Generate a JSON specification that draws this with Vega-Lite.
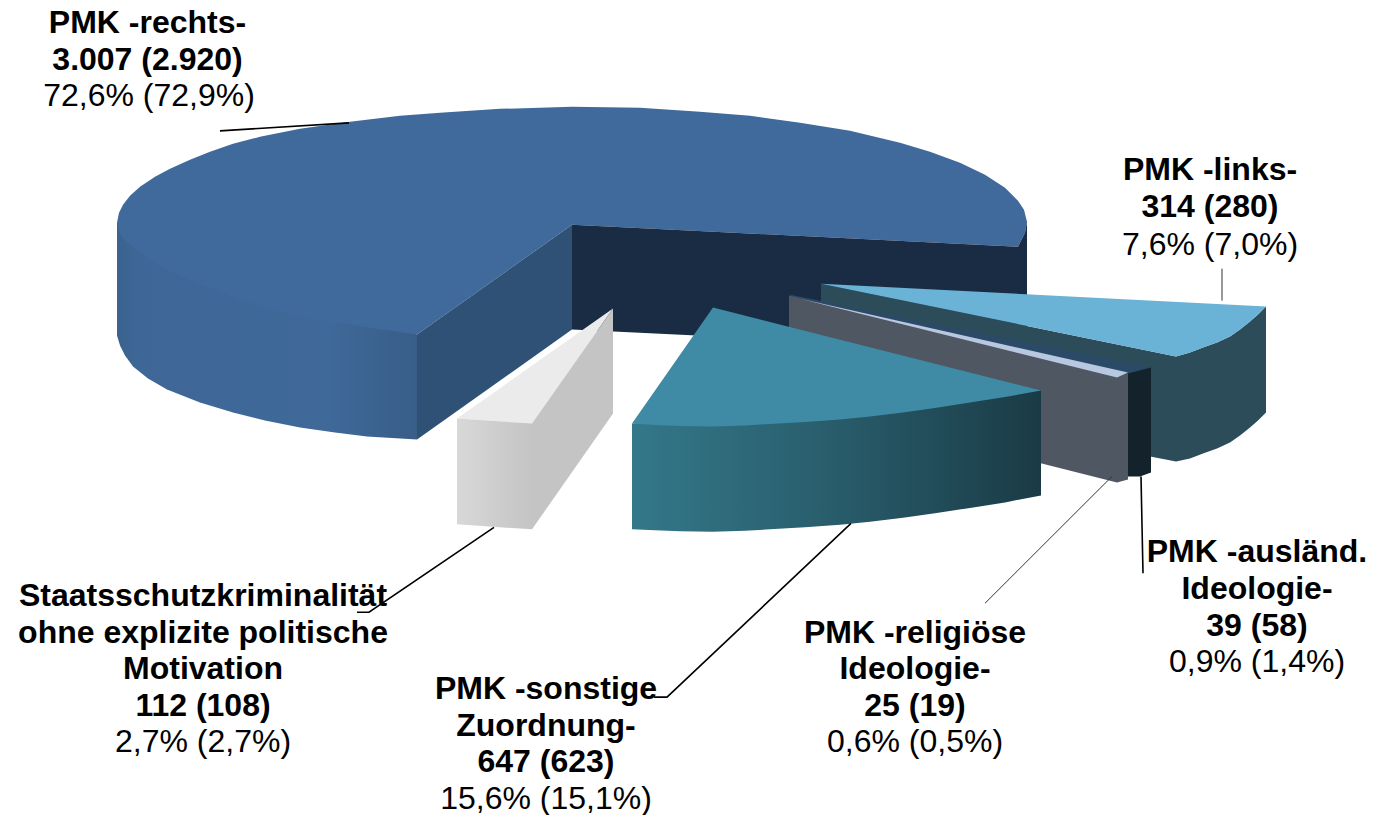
{
"$schema":"https://vega.github.io/schema/vega-lite/v6.json",
"description":"Exploded 3D pie. Vega-Lite has no elliptical arc, so the faces and label anchors are outlines read off the picture, in the picture's own coordinate space, and drawn through x/y scales.",
"width":1393,"height":815,"padding":0,
"autosize":{"type":"fit","contains":"padding"},
"background":"white",
"config":{"view":{"stroke":null}},
"datasets":{
"faces":[
{"f":"blueSide","i":1,"x":117,"y":223},{"f":"blueSide","i":2,"x":117,"y":336},{"f":"blueSide","i":3,"x":120,"y":346},{"f":"blueSide","i":4,"x":125,"y":356},{"f":"blueSide","i":5,"x":133,"y":367},{"f":"blueSide","i":6,"x":148,"y":379},{"f":"blueSide","i":7,"x":167,"y":390},{"f":"blueSide","i":8,"x":200,"y":403},{"f":"blueSide","i":9,"x":233,"y":413},{"f":"blueSide","i":10,"x":265,"y":421},{"f":"blueSide","i":11,"x":300,"y":428},{"f":"blueSide","i":12,"x":335,"y":433},{"f":"blueSide","i":13,"x":367,"y":437},{"f":"blueSide","i":14,"x":417,"y":440},{"f":"blueSide","i":15,"x":417,"y":335},
{"f":"blueTop","i":1,"x":572,"y":225},{"f":"blueTop","i":2,"x":417,"y":335},{"f":"blueTop","i":3,"x":367,"y":328},{"f":"blueTop","i":4,"x":335,"y":323},{"f":"blueTop","i":5,"x":300,"y":317},{"f":"blueTop","i":6,"x":265,"y":308},{"f":"blueTop","i":7,"x":233,"y":297},{"f":"blueTop","i":8,"x":200,"y":285},{"f":"blueTop","i":9,"x":167,"y":270},{"f":"blueTop","i":10,"x":148,"y":259},{"f":"blueTop","i":11,"x":133,"y":247},{"f":"blueTop","i":12,"x":124,"y":240},{"f":"blueTop","i":13,"x":119,"y":232},{"f":"blueTop","i":14,"x":117,"y":223},{"f":"blueTop","i":15,"x":119,"y":213},{"f":"blueTop","i":16,"x":123,"y":205},{"f":"blueTop","i":17,"x":130,"y":196},{"f":"blueTop","i":18,"x":140,"y":187},{"f":"blueTop","i":19,"x":155,"y":177},{"f":"blueTop","i":20,"x":170,"y":169},{"f":"blueTop","i":21,"x":190,"y":160},{"f":"blueTop","i":22,"x":210,"y":152},{"f":"blueTop","i":23,"x":233,"y":144},{"f":"blueTop","i":24,"x":260,"y":137},{"f":"blueTop","i":25,"x":300,"y":129},{"f":"blueTop","i":26,"x":350,"y":122},{"f":"blueTop","i":27,"x":400,"y":116},{"f":"blueTop","i":28,"x":440,"y":113},{"f":"blueTop","i":29,"x":500,"y":109},{"f":"blueTop","i":30,"x":572,"y":107},{"f":"blueTop","i":31,"x":640,"y":108},{"f":"blueTop","i":32,"x":700,"y":112},{"f":"blueTop","i":33,"x":750,"y":116},{"f":"blueTop","i":34,"x":800,"y":123},{"f":"blueTop","i":35,"x":850,"y":131},{"f":"blueTop","i":36,"x":900,"y":143},{"f":"blueTop","i":37,"x":930,"y":152},{"f":"blueTop","i":38,"x":960,"y":163},{"f":"blueTop","i":39,"x":985,"y":175},{"f":"blueTop","i":40,"x":1005,"y":188},{"f":"blueTop","i":41,"x":1018,"y":201},{"f":"blueTop","i":42,"x":1024,"y":210},{"f":"blueTop","i":43,"x":1027,"y":222},{"f":"blueTop","i":44,"x":1025,"y":233},{"f":"blueTop","i":45,"x":1018,"y":247},
{"f":"navy","i":1,"x":572,"y":225},{"f":"navy","i":2,"x":1018,"y":247},{"f":"navy","i":3,"x":1025,"y":233},{"f":"navy","i":4,"x":1027,"y":222},{"f":"navy","i":5,"x":1027,"y":352},{"f":"navy","i":6,"x":572,"y":330},
{"f":"blueCut","i":1,"x":572,"y":225},{"f":"blueCut","i":2,"x":417,"y":335},{"f":"blueCut","i":3,"x":417,"y":440},{"f":"blueCut","i":4,"x":572,"y":330},
{"f":"linksSide","i":1,"x":821,"y":284},{"f":"linksSide","i":2,"x":1176,"y":357},{"f":"linksSide","i":3,"x":1190,"y":353},{"f":"linksSide","i":4,"x":1203,"y":348},{"f":"linksSide","i":5,"x":1217,"y":343},{"f":"linksSide","i":6,"x":1230,"y":337},{"f":"linksSide","i":7,"x":1240,"y":330},{"f":"linksSide","i":8,"x":1250,"y":322},{"f":"linksSide","i":9,"x":1258,"y":315},{"f":"linksSide","i":10,"x":1266,"y":307},{"f":"linksSide","i":11,"x":1266,"y":413},{"f":"linksSide","i":12,"x":1258,"y":421},{"f":"linksSide","i":13,"x":1250,"y":428},{"f":"linksSide","i":14,"x":1240,"y":436},{"f":"linksSide","i":15,"x":1230,"y":443},{"f":"linksSide","i":16,"x":1217,"y":449},{"f":"linksSide","i":17,"x":1203,"y":454},{"f":"linksSide","i":18,"x":1190,"y":459},{"f":"linksSide","i":19,"x":1176,"y":462},{"f":"linksSide","i":20,"x":1145,"y":456},{"f":"linksSide","i":21,"x":821,"y":390},
{"f":"linksTop","i":1,"x":821,"y":284},{"f":"linksTop","i":2,"x":1266,"y":307},{"f":"linksTop","i":3,"x":1258,"y":315},{"f":"linksTop","i":4,"x":1250,"y":322},{"f":"linksTop","i":5,"x":1240,"y":330},{"f":"linksTop","i":6,"x":1230,"y":337},{"f":"linksTop","i":7,"x":1217,"y":343},{"f":"linksTop","i":8,"x":1203,"y":348},{"f":"linksTop","i":9,"x":1190,"y":353},{"f":"linksTop","i":10,"x":1176,"y":357},
{"f":"auslTop","i":1,"x":790,"y":295},{"f":"auslTop","i":2,"x":1151,"y":368},{"f":"auslTop","i":3,"x":1128,"y":374},{"f":"auslTop","i":4,"x":790,"y":298},
{"f":"auslFront","i":1,"x":1128,"y":374},{"f":"auslFront","i":2,"x":1151,"y":368},{"f":"auslFront","i":3,"x":1151,"y":473},{"f":"auslFront","i":4,"x":1140,"y":477},{"f":"auslFront","i":5,"x":1128,"y":477},
{"f":"relCut","i":1,"x":789,"y":296},{"f":"relCut","i":2,"x":1128,"y":374},{"f":"relCut","i":3,"x":1128,"y":480},{"f":"relCut","i":4,"x":1117,"y":483},{"f":"relCut","i":5,"x":789,"y":400},
{"f":"relTop","i":1,"x":800,"y":299},{"f":"relTop","i":2,"x":1128,"y":373},{"f":"relTop","i":3,"x":1117,"y":378},
{"f":"tealSide","i":1,"x":632,"y":424},{"f":"tealSide","i":2,"x":632,"y":530},{"f":"tealSide","i":3,"x":655,"y":531},{"f":"tealSide","i":4,"x":680,"y":532},{"f":"tealSide","i":5,"x":713,"y":532.5},{"f":"tealSide","i":6,"x":745,"y":531.5},{"f":"tealSide","i":7,"x":770,"y":530},{"f":"tealSide","i":8,"x":805,"y":528},{"f":"tealSide","i":9,"x":840,"y":525.5},{"f":"tealSide","i":10,"x":870,"y":522.5},{"f":"tealSide","i":11,"x":903,"y":518.5},{"f":"tealSide","i":12,"x":935,"y":514},{"f":"tealSide","i":13,"x":970,"y":508.5},{"f":"tealSide","i":14,"x":1005,"y":503},{"f":"tealSide","i":15,"x":1041,"y":496},{"f":"tealSide","i":16,"x":1041,"y":391},
{"f":"tealTop","i":1,"x":713,"y":308},{"f":"tealTop","i":2,"x":632,"y":424},{"f":"tealTop","i":3,"x":655,"y":425.5},{"f":"tealTop","i":4,"x":680,"y":426.5},{"f":"tealTop","i":5,"x":713,"y":427},{"f":"tealTop","i":6,"x":745,"y":426},{"f":"tealTop","i":7,"x":770,"y":424.5},{"f":"tealTop","i":8,"x":805,"y":422.5},{"f":"tealTop","i":9,"x":840,"y":420},{"f":"tealTop","i":10,"x":870,"y":417},{"f":"tealTop","i":11,"x":903,"y":413},{"f":"tealTop","i":12,"x":935,"y":408.5},{"f":"tealTop","i":13,"x":970,"y":403},{"f":"tealTop","i":14,"x":1005,"y":397.5},{"f":"tealTop","i":15,"x":1041,"y":391},
{"f":"greyTop","i":1,"x":613,"y":309},{"f":"greyTop","i":2,"x":457,"y":419},{"f":"greyTop","i":3,"x":532,"y":424},
{"f":"greyFront","i":1,"x":457,"y":419},{"f":"greyFront","i":2,"x":532,"y":424},{"f":"greyFront","i":3,"x":532,"y":530},{"f":"greyFront","i":4,"x":457,"y":525},
{"f":"greyCut","i":1,"x":532,"y":424},{"f":"greyCut","i":2,"x":613,"y":309},{"f":"greyCut","i":3,"x":613,"y":414},{"f":"greyCut","i":4,"x":532,"y":530}
],
"leaders":[
{"l":"rechts","i":1,"x":220,"y":131},{"l":"rechts","i":2,"x":349,"y":123},
{"l":"staats","i":1,"x":494,"y":528},{"l":"staats","i":2,"x":369,"y":613},{"l":"staats","i":3,"x":357,"y":613},
{"l":"sonstige","i":1,"x":851,"y":524},{"l":"sonstige","i":2,"x":667,"y":698},{"l":"sonstige","i":3,"x":654,"y":698},
{"l":"ausl","i":1,"x":1141,"y":477},{"l":"ausl","i":2,"x":1143,"y":574}
],
"thinLeaders":[
{"l":"links","i":1,"x":1222,"y":269},{"l":"links","i":2,"x":1222,"y":301},
{"l":"rel","i":1,"x":1112,"y":477},{"l":"rel","i":2,"x":985,"y":604}
],
"labels":[
{"t":"PMK -rechts-","b":1,"x":147.5,"y":23},{"t":"3.007 (2.920)","b":1,"x":147.5,"y":60},{"t":"72,6% (72,9%)","b":0,"x":149,"y":96},
{"t":"PMK -links-","b":1,"x":1210,"y":170},{"t":"314 (280)","b":1,"x":1210,"y":207},{"t":"7,6% (7,0%)","b":0,"x":1210,"y":245},
{"t":"PMK -ausländ.","b":1,"x":1257,"y":553},{"t":"Ideologie-","b":1,"x":1257,"y":590},{"t":"39 (58)","b":1,"x":1257,"y":627},{"t":"0,9% (1,4%)","b":0,"x":1257,"y":663},
{"t":"PMK -religiöse","b":1,"x":915,"y":634},{"t":"Ideologie-","b":1,"x":915,"y":670},{"t":"25 (19)","b":1,"x":915,"y":707},{"t":"0,6% (0,5%)","b":0,"x":915,"y":743},
{"t":"PMK -sonstige","b":1,"x":546,"y":690},{"t":"Zuordnung-","b":1,"x":546,"y":727},{"t":"647 (623)","b":1,"x":546,"y":763},{"t":"15,6% (15,1%)","b":0,"x":546,"y":800},
{"t":"Staatsschutzkriminalität","b":1,"x":203,"y":596.5},{"t":"ohne explizite politische","b":1,"x":203,"y":633.5},{"t":"Motivation","b":1,"x":203,"y":670},{"t":"112 (108)","b":1,"x":203,"y":706.5},{"t":"2,7% (2,7%)","b":0,"x":203,"y":743}
]
},
"encoding":{
"x":{"field":"x","type":"quantitative","axis":null,"scale":{"domain":[0,1393],"nice":false,"zero":false}},
"y":{"field":"y","type":"quantitative","axis":null,"scale":{"domain":[815,0],"nice":false,"zero":false}}
},
"layer":[
{"data":{"name":"faces"},"transform":[{"filter":"datum.f=='blueSide'"}],"mark":{"type":"line","strokeWidth":0,"fill":{"gradient":"linear","x1":0,"x2":1,"y1":0,"y2":0,"stops":[{"offset":0,"color":"#3a628d"},{"offset":0.06,"color":"#3e6797"},{"offset":0.7,"color":"#3f6999"},{"offset":1,"color":"#385e88"}]}},"encoding":{"order":{"field":"i"}}},
{"data":{"name":"faces"},"transform":[{"filter":"datum.f=='blueTop'"}],"mark":{"type":"line","strokeWidth":0,"fill":"#406a9b"},"encoding":{"order":{"field":"i"}}},
{"data":{"name":"faces"},"transform":[{"filter":"datum.f=='navy'"}],"mark":{"type":"line","strokeWidth":0,"fill":"#1a2c44"},"encoding":{"order":{"field":"i"}}},
{"data":{"name":"faces"},"transform":[{"filter":"datum.f=='blueCut'"}],"mark":{"type":"line","strokeWidth":0,"fill":"#2f5176"},"encoding":{"order":{"field":"i"}}},
{"data":{"name":"faces"},"transform":[{"filter":"datum.f=='linksSide'"}],"mark":{"type":"line","strokeWidth":0,"fill":"#2d4c5a"},"encoding":{"order":{"field":"i"}}},
{"data":{"name":"faces"},"transform":[{"filter":"datum.f=='linksTop'"}],"mark":{"type":"line","strokeWidth":0,"fill":"#6ab2d6"},"encoding":{"order":{"field":"i"}}},
{"data":{"name":"faces"},"transform":[{"filter":"datum.f=='auslTop'"}],"mark":{"type":"line","strokeWidth":0,"fill":"#2b4a68"},"encoding":{"order":{"field":"i"}}},
{"data":{"name":"faces"},"transform":[{"filter":"datum.f=='auslFront'"}],"mark":{"type":"line","strokeWidth":0,"fill":"#14222b"},"encoding":{"order":{"field":"i"}}},
{"data":{"name":"faces"},"transform":[{"filter":"datum.f=='relCut'"}],"mark":{"type":"line","strokeWidth":0,"fill":"#4f5762"},"encoding":{"order":{"field":"i"}}},
{"data":{"name":"faces"},"transform":[{"filter":"datum.f=='relTop'"}],"mark":{"type":"line","strokeWidth":0,"fill":"#b8c8e0"},"encoding":{"order":{"field":"i"}}},
{"data":{"name":"faces"},"transform":[{"filter":"datum.f=='tealSide'"}],"mark":{"type":"line","strokeWidth":0,"fill":{"gradient":"linear","x1":0,"x2":1,"y1":0,"y2":0,"stops":[{"offset":0,"color":"#33788a"},{"offset":0.45,"color":"#2a5f6e"},{"offset":1,"color":"#1a3b46"}]}},"encoding":{"order":{"field":"i"}}},
{"data":{"name":"faces"},"transform":[{"filter":"datum.f=='tealTop'"}],"mark":{"type":"line","strokeWidth":0,"fill":"#3f8ba5"},"encoding":{"order":{"field":"i"}}},
{"data":{"name":"faces"},"transform":[{"filter":"datum.f=='greyTop'"}],"mark":{"type":"line","strokeWidth":0,"fill":"#ebebeb"},"encoding":{"order":{"field":"i"}}},
{"data":{"name":"faces"},"transform":[{"filter":"datum.f=='greyFront'"}],"mark":{"type":"line","strokeWidth":0,"fill":{"gradient":"linear","x1":0,"x2":1,"y1":0,"y2":0,"stops":[{"offset":0,"color":"#d8d8d8"},{"offset":1,"color":"#c4c4c4"}]}},"encoding":{"order":{"field":"i"}}},
{"data":{"name":"faces"},"transform":[{"filter":"datum.f=='greyCut'"}],"mark":{"type":"line","strokeWidth":0,"fill":"#c4c4c4"},"encoding":{"order":{"field":"i"}}},
{"data":{"name":"labels"},"transform":[{"filter":"datum.b==1"}],"mark":{"type":"text","font":"Liberation Sans","fontSize":32,"fontWeight":"bold","align":"center","baseline":"middle","color":"#000000"},"encoding":{"text":{"field":"t"}}},
{"data":{"name":"labels"},"transform":[{"filter":"datum.b==0"}],"mark":{"type":"text","font":"Liberation Sans","fontSize":32,"align":"center","baseline":"middle","color":"#000000"},"encoding":{"text":{"field":"t"}}},
{"data":{"name":"leaders"},"mark":{"type":"line","stroke":"#000000","strokeWidth":1.6},"encoding":{"detail":{"field":"l"},"order":{"field":"i"}}},
{"data":{"name":"thinLeaders"},"mark":{"type":"line","stroke":"#333333","strokeWidth":1},"encoding":{"detail":{"field":"l"},"order":{"field":"i"}}}
]
}
